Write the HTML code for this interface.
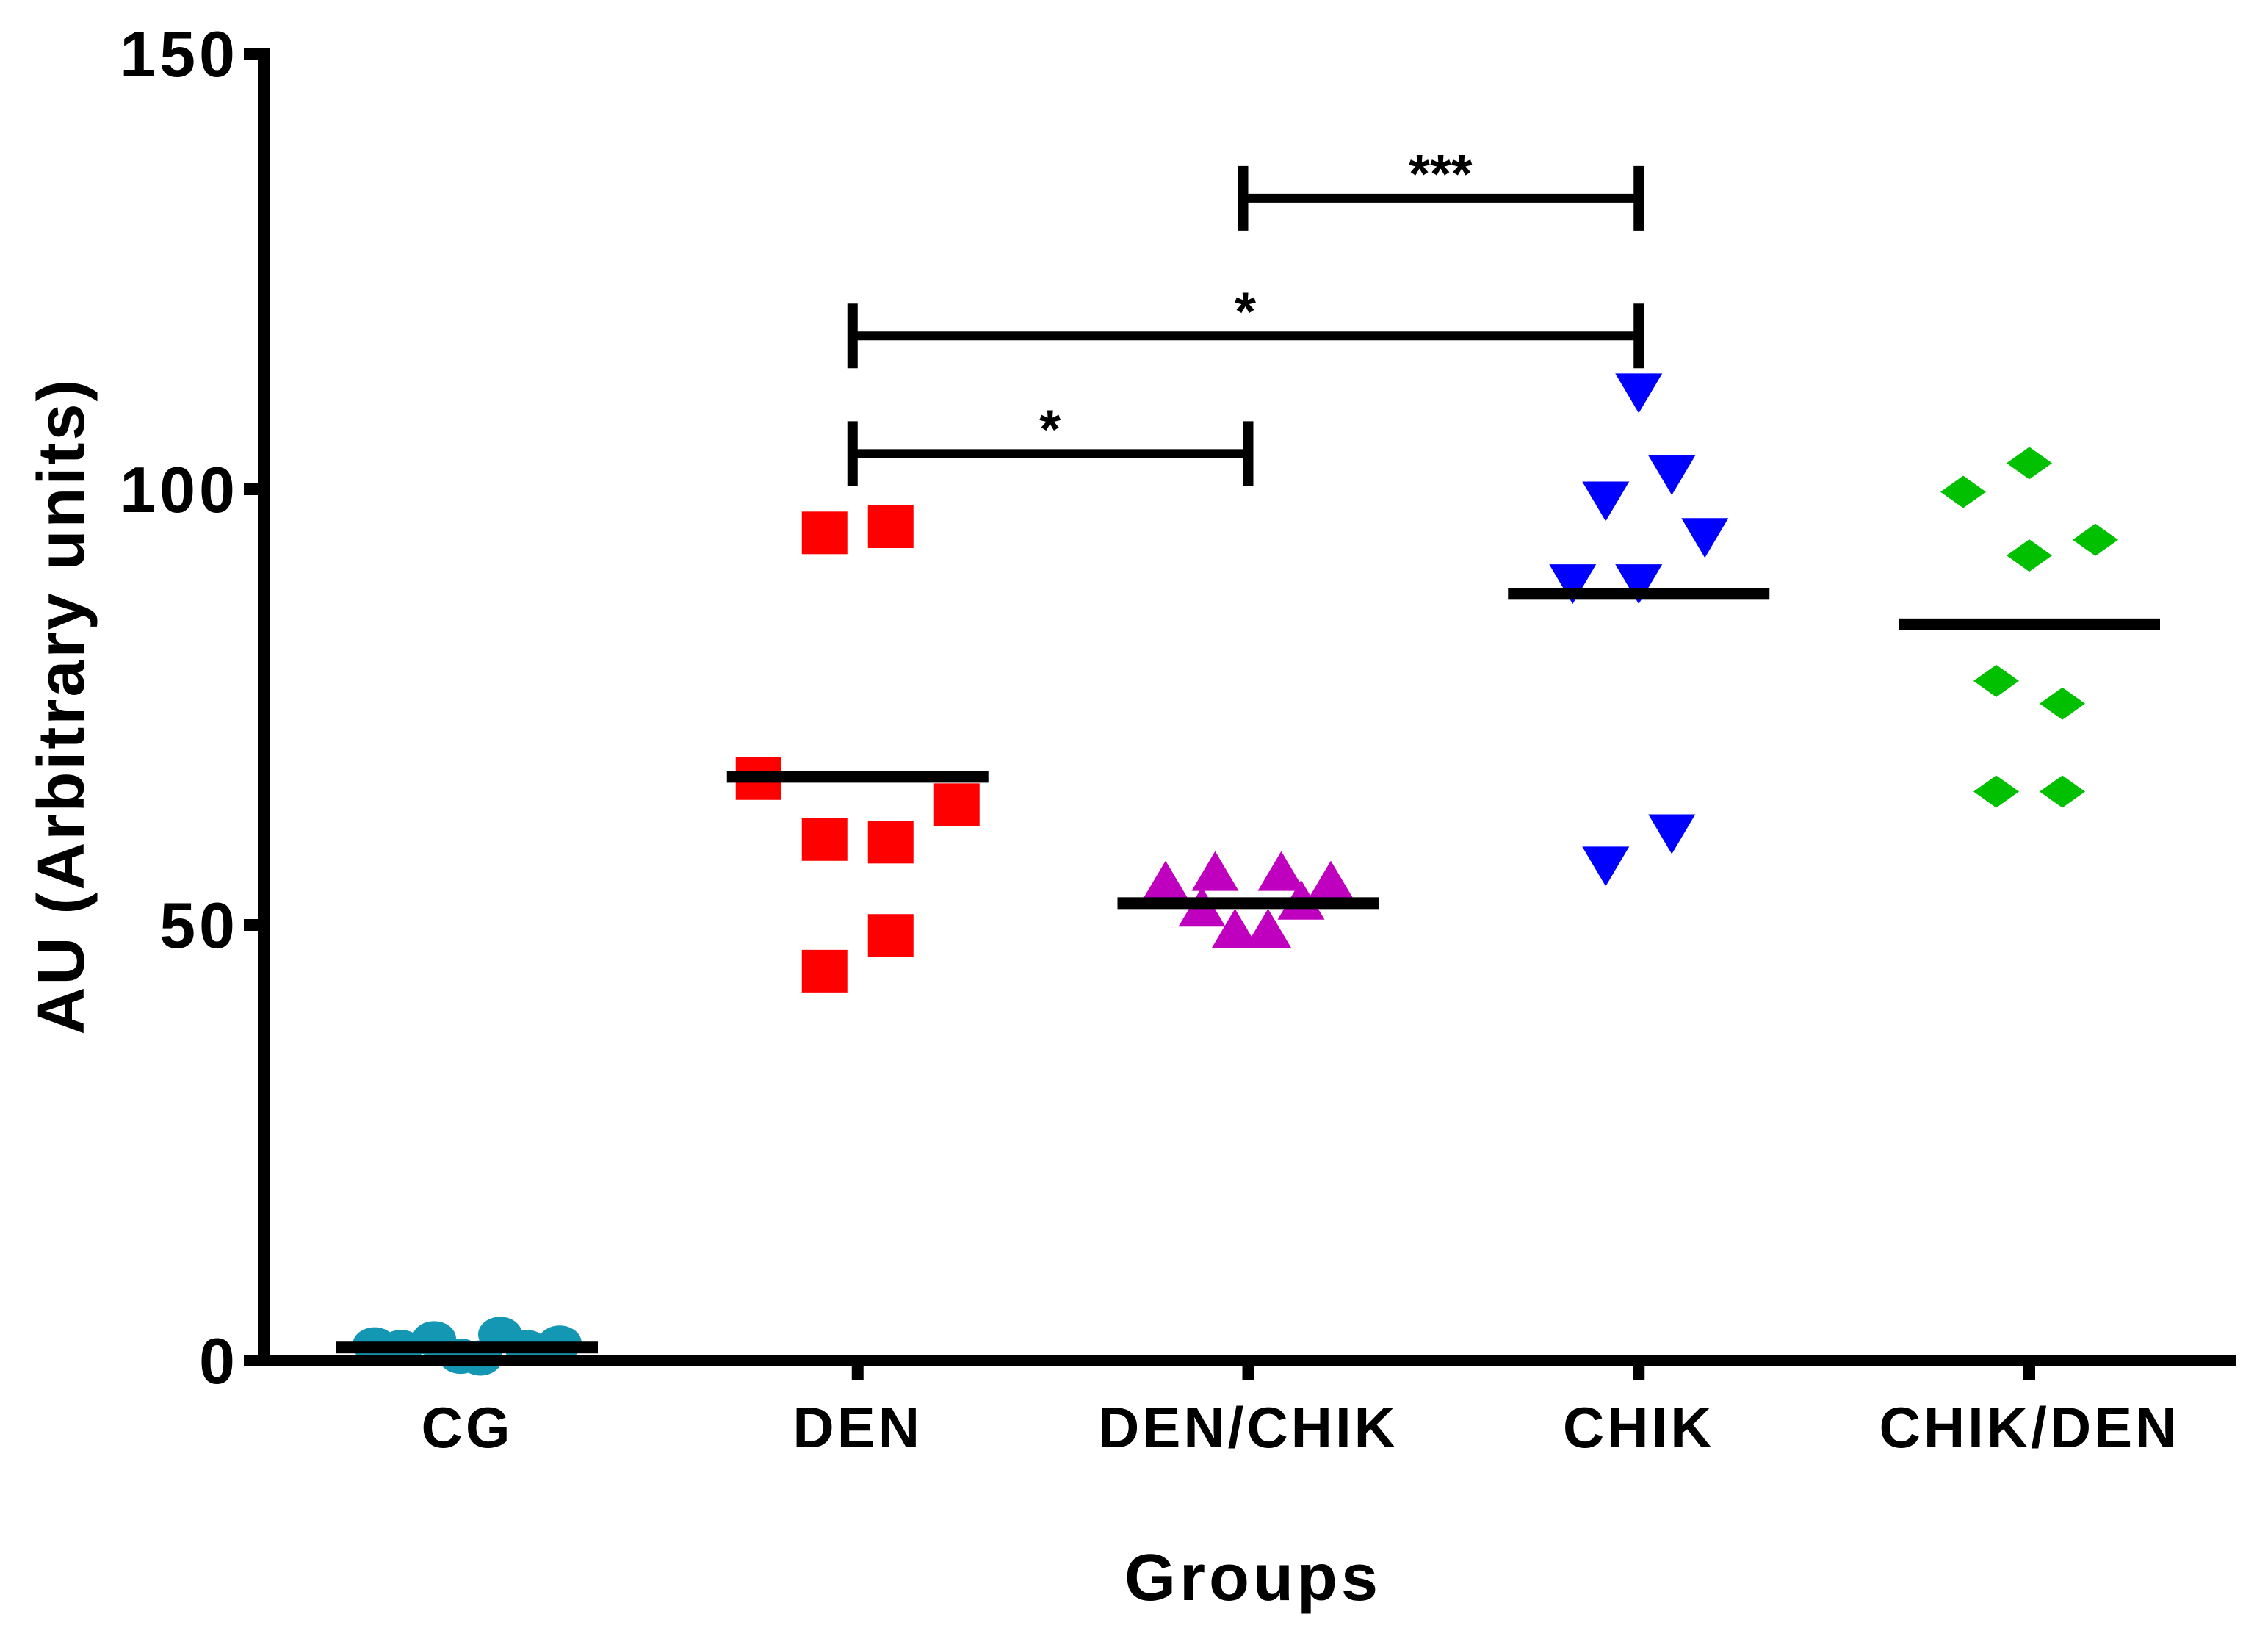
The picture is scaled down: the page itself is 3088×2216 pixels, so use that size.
<!DOCTYPE html>
<html><head><meta charset="utf-8"><style>
html,body{margin:0;padding:0;background:#fff;}
svg{display:block;font-family:"Liberation Sans",Arial,sans-serif;font-weight:bold;}
</style></head><body>
<svg id="chart" width="3088" height="2216" viewBox="0 0 3088 2216" xmlns="http://www.w3.org/2000/svg">
<text x="0" y="0" transform="translate(114,961) rotate(-90)" text-anchor="middle" font-size="90" letter-spacing="3">AU (Arbitrary units)</text>
<text x="1706" y="2178" text-anchor="middle" font-size="90" letter-spacing="5">Groups</text>
<g id="marks"></g>
</svg>
<script>
const categories = ["CG","DEN","DEN/CHIK","CHIK","CHIK/DEN"];
const yTicks = [0,50,100,150];
const cgValues = [1.8,1.5,2.5,0.5,0.3,3,1.5,2];
const cgJitter = [-1.4,-1,-0.5,-0.1,0.2,0.5,0.9,1.4];
const denValues = [95,95.7,66.8,59.8,59.5,63.8,48.8,44.7];
const denJitter = [-0.5,0.5,-1.5,-0.5,0.5,1.5,0.5,-0.5];
const denChikValues = [54.5,55.6,55.6,54.5,51.5,49,49,52.3];
const denChikJitter = [-1.25,-0.5,0.5,1.25,-0.7,-0.2,0.3,0.8];
const chikValues = [111.6,99.2,102.2,95,89.7,89.7,57.3,61];
const chikJitter = [0,-0.5,0.5,1,-1,0,-0.5,0.5];
const chikDenValues = [99.7,103,92.4,94.2,78,75.4,65.3,65.3];
const chikDenJitter = [-1,0,0,1,-0.5,0.5,-0.5,0.5];
const means = [1.5,67,52.5,88,84.5];
const sigFrom = [2,1,1];
const sigTo = [3,3,2];
const sigLevel = [133.4,117.6,104.1];
const sigLabel = ["***","*","*"];

const NS="http://www.w3.org/2000/svg";
const svg=document.getElementById('chart');
const g=document.getElementById('marks');
const yScale=v=>1852-v*11.86;
const xScale=i=>636+i*531.75;
const jit=j=>j*90;
function mk(tag,attrs,parent){const e=document.createElementNS(NS,tag);for(const k in attrs)e.setAttribute(k,attrs[k]);(parent||g).appendChild(e);return e;}

function square(cx,cy){const e=mk('rect',{x:cx-31,y:cy-29,width:62,height:58,fill:'#ff0000'});

}
function circle(cx,cy){const e=mk('ellipse',{cx:cx,cy:cy,rx:30,ry:24,fill:'#1497b3'});

}
function triUp(cx,cy){const e=mk('polygon',{points:`${cx},${cy-34} ${cx+32},${cy+20} ${cx-32},${cy+20}`,fill:'#bf00bf'});

}
function triDown(cx,cy){const e=mk('polygon',{points:`${cx-32},${cy-20} ${cx+32},${cy-20} ${cx},${cy+34}`,fill:'#0000ff'});

}
function diamond(cx,cy){const e=mk('polygon',{points:`${cx},${cy-22} ${cx+31},${cy} ${cx},${cy+22} ${cx-31},${cy}`,fill:'#00c000'});

}

const groups=[[cgValues,cgJitter,circle],[denValues,denJitter,square],[denChikValues,denChikJitter,triUp],[chikValues,chikJitter,triDown],[chikDenValues,chikDenJitter,diamond]];
groups.forEach((gr,i)=>{gr[0].forEach((v,k)=>gr[2](xScale(i)+jit(gr[1][k]),yScale(v)));});

means.forEach((m,i)=>{const e=mk('rect',{x:xScale(i)-178,y:yScale(m)-8,width:356,height:16,fill:'#000'});

});

const ya=mk('rect',{x:351,y:66,width:16,height:1794,fill:'#000'});


const xa=mk('rect',{x:351,y:1844,width:2693,height:16,fill:'#000'});


yTicks.forEach(t=>{const y=yScale(t);
const tk=mk('rect',{x:332,y:y-8,width:30,height:16,fill:'#000'});


const tx=mk('text',{x:325,y:y+31,'text-anchor':'end','font-size':88,'letter-spacing':5});tx.textContent=t;

});
categories.forEach((c,i)=>{const x=xScale(i);
if(i>0){const tk=mk('rect',{x:x-8,y:1852,width:16,height:26,fill:'#000'});

}
const tx=mk('text',{x:x,y:1970,'text-anchor':'middle','font-size':78,'letter-spacing':4});tx.textContent=c;

});

sigFrom.forEach((f,k)=>{const x1=xScale(f)-8,x2=xScale(sigTo[k]),y=yScale(sigLevel[k]);
const b=mk('g',{});


mk('rect',{x:x1,y:y-6,width:x2-x1,height:12,fill:'#000'},b);
mk('rect',{x:x1-6,y:y-44,width:14,height:88,fill:'#000'},b);
mk('rect',{x:x2-7,y:y-44,width:14,height:88,fill:'#000'},b);
const tx=mk('text',{x:(x1+x2)/2,y:y-8,'text-anchor':'middle','font-size':74},b);tx.textContent=sigLabel[k];

});
</script>
</body></html>
